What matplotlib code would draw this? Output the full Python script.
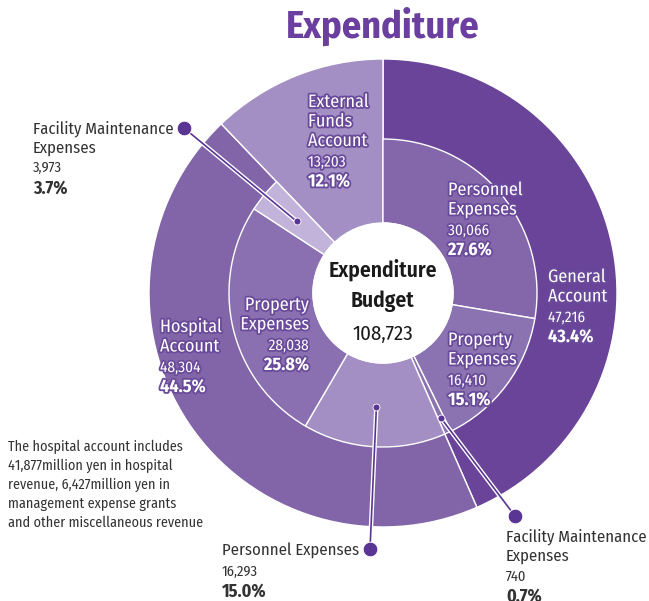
import numpy as np
import matplotlib
matplotlib.use('Agg')
import matplotlib.pyplot as plt
import matplotlib.patheffects as pe
from matplotlib import font_manager

# узкий шрифт с жирным начертанием, если есть
weights = {}
for f in font_manager.fontManager.ttflist:
    weights.setdefault(f.name, set()).add(f.weight)
wanted = ['Fira Sans Condensed', 'Roboto Condensed', 'Asap Condensed',
          'IBM Plex Sans Condensed', 'Encode Sans Condensed']
cond = [n for n in wanted if n in weights and 700 in weights[n] and 400 in weights[n]]
plt.rcParams['font.family'] = cond[:1] + ['Roboto', 'DejaVu Sans']

# данные
accounts = ['General\nAccount', 'Hospital\nAccount', 'External\nFunds\nAccount']
account_values = [47216, 48304, 13203]
account_pct = ['43.4%', '44.5%', '12.1%']

items = ['Personnel\nExpenses', 'Property\nExpenses', 'Facility Maintenance\nExpenses',
         'Personnel Expenses', 'Property\nExpenses', 'Facility Maintenance\nExpenses']
item_values = [30066, 16410, 740, 16293, 28038, 3973]
item_pct = ['27.6%', '15.1%', '0.7%', '15.0%', '25.8%', '3.7%']

total = 108723

note_lines = ['The hospital account includes',
              '41,877million yen in hospital',
              'revenue, 6,427million yen in',
              'management expense grants',
              'and other miscellaneous revenue']

outer_colors = ['#6a4498', '#8265a9', '#a48fc5']
inner_colors = ['#8467ab', '#8b73b1', '#8b73b1', '#a48fc5', '#8a70b0', '#c1b3d9']

cx, cy = 383, 293
r_out, r_mid, r_in = 234, 154, 70

fig = plt.figure(figsize=(6.49, 6.01), dpi=100)
ax = fig.add_axes([0, 0, 1, 1])

ax.pie(account_values, colors=outer_colors, radius=r_out, center=(cx, cy),
       startangle=-90, counterclock=True, frame=True,
       wedgeprops=dict(edgecolor='white', linewidth=1))
inner_vals = item_values + [account_values[2]]
wedges, _ = ax.pie(inner_vals, colors=inner_colors + ['none'], radius=r_mid, center=(cx, cy),
                   startangle=-90, counterclock=True, frame=True,
                   wedgeprops=dict(width=r_mid - r_in, edgecolor='white', linewidth=1))
wedges[-1].set_visible(False)
ax.add_patch(plt.Circle((cx, cy), r_in, color='white', zorder=3))

ax.set_xlim(0, 649)
ax.set_ylim(601, 0)
ax.set_aspect('equal')
ax.axis('off')

cum = np.cumsum([0] + inner_vals)
mids = -90 + 360 * (cum[:-1] + cum[1:]) / 2 / sum(inner_vals)


def pt(angle, r):
    a = np.radians(angle)
    return cx + r * np.cos(a), cy + r * np.sin(a)


purple = '#5b3593'
gray = '#333333'


def leader(idx, r, end):
    x0, y0 = pt(mids[idx], r)
    ax.plot([x0, end[0]], [y0, end[1]], color='white', lw=3.2, zorder=5, solid_capstyle='round')
    ax.plot([x0, end[0]], [y0, end[1]], color=purple, lw=1.2, zorder=6)
    ax.plot(x0, y0, 'o', color=purple, ms=5, mec='white', mew=0.6, zorder=7)
    ax.plot(end[0], end[1], 'o', color=purple, ms=10.5, mec='white', mew=0.6, zorder=7)


leader(3, 114, (370, 549))
leader(5, 112, (184, 128))
leader(2, 138, (515, 516))

# заголовок
ax.text(cx, 38, 'Expenditure', ha='center', va='baseline', fontsize=27.5,
        fontweight='bold', color='#6b3fa0')

# центр
for yb, s in [(277, 'Expenditure'), (307, 'Budget')]:
    ax.text(cx, yb, s, ha='center', va='baseline', fontsize=15.5,
            fontweight='semibold', color='#1a1a1a', zorder=8)
ax.text(cx, 340, f'{total:,}', ha='center', va='baseline', fontsize=15,
        color='#1a1a1a', zorder=8)

stroke = [pe.withStroke(linewidth=2.6, foreground='#6a4a9a')]


def inlabel(x, y, name, value, pct, ha='left'):
    # y - базовая линия первой строки
    lines = name.split('\n')
    for i, s in enumerate(lines):
        ax.text(x, y + i * 19.5, s, ha=ha, va='baseline', fontsize=13, color='white',
                path_effects=stroke, zorder=8)
    y2 = y + len(lines) * 19.5 + 1
    ax.text(x, y2, f'{value:,}', ha=ha, va='baseline', fontsize=11, color='white',
            path_effects=stroke, zorder=8)
    ax.text(x, y2 + 20, pct, ha=ha, va='baseline', fontsize=13, fontweight='bold',
            color='white', path_effects=stroke, zorder=8)


inlabel(308, 107, accounts[2], account_values[2], account_pct[2])
inlabel(448, 195, items[0], item_values[0], item_pct[0])
inlabel(548, 282, accounts[0], account_values[0], account_pct[0])
inlabel(448, 345, items[1], item_values[1], item_pct[1])
inlabel(160, 332, accounts[1], account_values[1], account_pct[1])
inlabel(309, 310, items[4], item_values[4], item_pct[4], ha='right')


def outlabel(x, y, name, value, pct):
    lines = name.split('\n')
    for i, s in enumerate(lines):
        ax.text(x, y + i * 19.5, s, ha='left', va='baseline', fontsize=12, color=gray)
    y2 = y + len(lines) * 19.5 + 0.5
    ax.text(x, y2, f'{value:,}', ha='left', va='baseline', fontsize=10.5, color=gray)
    ax.text(x, y2 + 21, pct, ha='left', va='baseline', fontsize=13, fontweight='bold', color=gray)


outlabel(33, 133, items[5], item_values[5], item_pct[5])
outlabel(222, 556, items[3], item_values[3], item_pct[3])
outlabel(506, 541, items[2], item_values[2], item_pct[2])

for i, s in enumerate(note_lines):
    ax.text(8, 451 + i * 19, s, ha='left', va='baseline', fontsize=10.2, color=gray)

fig.savefig('out.png', dpi=100)
